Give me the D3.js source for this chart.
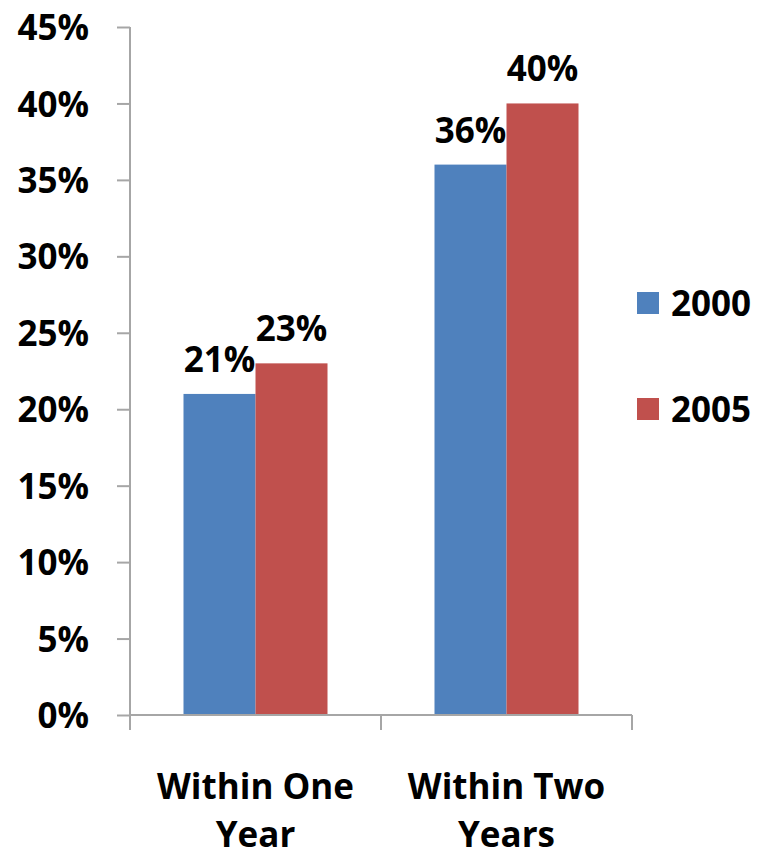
<!DOCTYPE html>
<html>
<head>
<meta charset="utf-8">
<script src="https://cdn.jsdelivr.net/npm/d3@7"></script>
<style>
  html, body { margin: 0; padding: 0; background: #fff; }
  svg { display: block; }
  text { font-family: "Open Sans", "DejaVu Sans", sans-serif; font-weight: 700; fill: #000; }
</style>
</head>
<body>
<svg id="chart" width="759" height="857"></svg>
<script>
// Share of cases, by period and year
const categories = [["Within One", "Year"], ["Within Two", "Years"]];
const series = ["2000", "2005"];
const values2000 = [0.21, 0.36];
const values2005 = [0.23, 0.40];
const yTicks = [0, 0.05, 0.10, 0.15, 0.20, 0.25, 0.30, 0.35, 0.40, 0.45];
const colors = ["#4F81BD", "#C0504D"];

const seriesValues = [values2000, values2005];
const catKeys = categories.map(c => c.join(" "));

const svg = d3.select("#chart");
const fontSize = 35;
const axisColor = "#a6a6a6";

const plot = { left: 130, right: 632, top: 27, bottom: 715 };

const x0 = d3.scaleBand().domain(catKeys).range([plot.left, plot.right]).paddingInner(0).paddingOuter(0);
const x1 = d3.scaleBand().domain(series).range([0, x0.bandwidth()]).paddingInner(0).paddingOuter(0.743);
const y = d3.scaleLinear().domain([0, 0.45]).range([plot.bottom, plot.top]);

const fmt = d3.format(".0%");

// Y axis
const yAxis = svg.append("g")
  .attr("transform", `translate(${plot.left},0)`)
  .call(d3.axisLeft(y).tickValues(yTicks).tickFormat(fmt).tickSize(13).tickPadding(28));
yAxis.select(".domain").attr("stroke", axisColor).attr("stroke-width", 2)
  .attr("d", `M0,${plot.top}V${plot.bottom}`);
yAxis.selectAll(".tick line").attr("stroke", axisColor).attr("stroke-width", 2);
yAxis.selectAll(".tick text")
  .attr("font-size", fontSize)
  .attr("font-family", null)
  .attr("dy", "0.36em");

// Bars
const groups = svg.append("g").selectAll("g")
  .data(catKeys)
  .join("g")
  .attr("transform", d => `translate(${x0(d)},0)`);

groups.selectAll("rect")
  .data((d, i) => series.map((s, j) => ({ s, v: seriesValues[j][i], j })))
  .join("rect")
  .attr("x", d => x1(d.s))
  .attr("width", x1.bandwidth())
  .attr("y", d => y(d.v))
  .attr("height", d => y(0) - y(d.v))
  .attr("fill", d => colors[d.j]);

// Value labels
groups.selectAll("text.value")
  .data((d, i) => series.map((s, j) => ({ s, v: seriesValues[j][i] })))
  .join("text")
  .attr("class", "value")
  .attr("x", d => x1(d.s) + x1.bandwidth() / 2)
  .attr("y", d => y(d.v) - 22)
  .attr("text-anchor", "middle")
  .attr("font-size", fontSize)
  .text(d => fmt(d.v));

// X axis line and category boundary ticks
const xAxis = svg.append("g");
xAxis.append("line")
  .attr("x1", plot.left).attr("x2", plot.right)
  .attr("y1", y(0)).attr("y2", y(0))
  .attr("stroke", axisColor).attr("stroke-width", 2);
const bounds = catKeys.map(c => x0(c)).concat([x0(catKeys[catKeys.length - 1]) + x0.bandwidth()]);
xAxis.selectAll("line.tick")
  .data(bounds)
  .join("line")
  .attr("class", "tick")
  .attr("x1", d => d).attr("x2", d => d)
  .attr("y1", y(0)).attr("y2", y(0) + 15)
  .attr("stroke", axisColor).attr("stroke-width", 2);

// Category labels (two lines each)
const catLabels = xAxis.selectAll("text.cat")
  .data(categories)
  .join("text")
  .attr("class", "cat")
  .attr("text-anchor", "middle")
  .attr("font-size", fontSize)
  .attr("transform", (d, i) => `translate(${x0(catKeys[i]) + x0.bandwidth() / 2},799)`);
catLabels.selectAll("tspan")
  .data(d => d)
  .join("tspan")
  .attr("x", 0)
  .attr("y", (d, i) => i * 48)
  .text(d => d);

// Legend
const legend = svg.append("g").selectAll("g")
  .data(series)
  .join("g")
  .attr("transform", (d, i) => `translate(637,${292 + i * 106})`);
legend.append("rect")
  .attr("width", 22).attr("height", 22)
  .attr("fill", (d, i) => colors[i]);
legend.append("text")
  .attr("x", 34)
  .attr("y", 24)
  .attr("font-size", fontSize)
  .text(d => d);
</script>
</body>
</html>
